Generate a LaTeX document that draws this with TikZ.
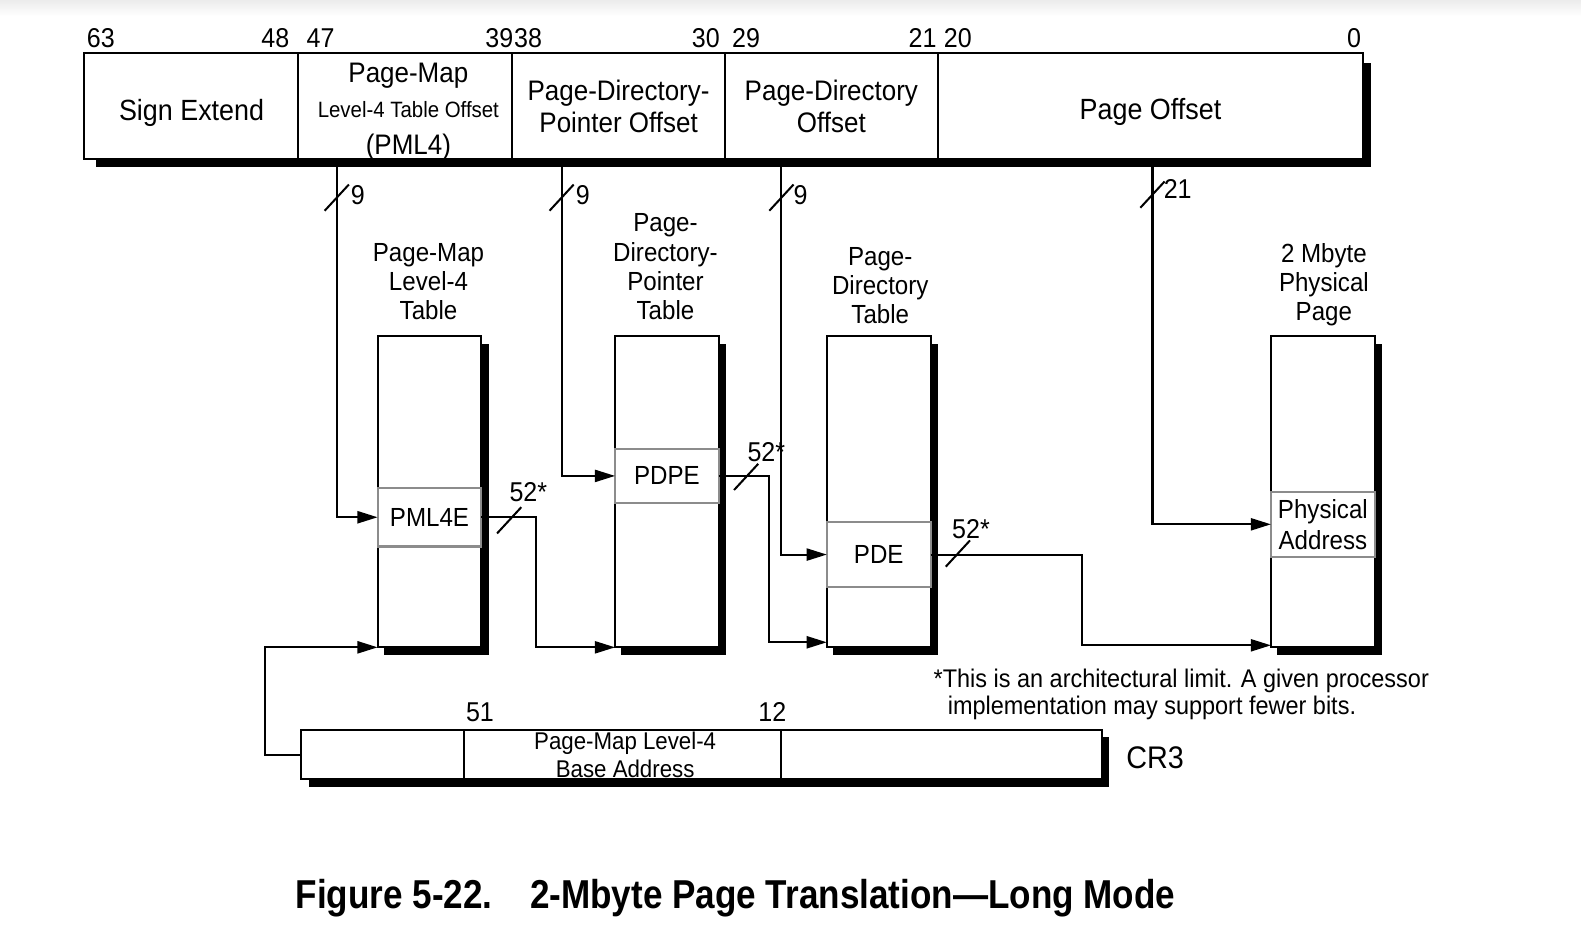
\documentclass[tikz,border=0pt]{standalone}
\usepackage{fontspec}
\setmainfont{Liberation Sans}[FakeStretch=0.92]
\newfontfamily\titlefont{Liberation Sans}[FakeStretch=0.87]
\usetikzlibrary{arrows.meta,calc}
\pgfdeclarelayer{bg}
\pgfsetlayers{bg,main}
\newcommand\fmain{\fontsize{26}{29}\selectfont}
\newcommand\fbig{\fontsize{29}{32}\selectfont}
\newcommand\fhead{\fontsize{28}{32}\selectfont}
\newcommand\fsmall{\fontsize{22}{24}\selectfont}
\newcommand\fcr{\fontsize{24}{28}\selectfont}
\newcommand\fbits{\fontsize{27}{30}\selectfont}
\newcommand\ffoot{\fontsize{25.3}{27}\selectfont}
\definecolor{entrygray}{RGB}{140,140,140}
\tikzset{
  every node/.style={inner sep=0pt, outer sep=0pt},
  field/.style={draw, line width=2pt, fill=white, minimum height=105pt, font=\fhead, align=center},
  tbl/.style={draw, line width=2pt, fill=white, minimum width=103pt, minimum height=309pt},
  entry/.style={draw=entrygray, line width=2pt, fill=white, minimum width=103pt, font=\fmain, align=center},
  crfield/.style={draw, line width=2pt, fill=white, minimum height=49pt},
  conn/.style={line width=2pt},
  arr/.style={conn, -{Triangle[length=20pt,width=12pt]}},
  lbl/.style={font=\fmain, align=center, anchor=north},
  bit/.style={font=\fbits, anchor=base},
}
\newcommand\slashat[1]{\draw[conn] ($(#1)+(-12,13)$) -- ($(#1)+(12,-13)$);}
\begin{document}
\begin{tikzpicture}[x=1pt,y=-1pt]
\useasboundingbox (0,0) rectangle (1568,924);

% ---- top address bar
\node[field, minimum width=213pt] (f1) at (189.5,105.5) {};
\node[field, minimum width=212pt] (f2) at (402,105.5) {};
\node[field, minimum width=211pt] (f3) at (613.5,105.5) {Page-Directory-\\Pointer Offset};
\node[field, minimum width=211pt] (f4) at (824.5,105.5) {Page-Directory\\Offset};
\node[field, minimum width=422pt] (f5) at (1141,105.5) {};
\node[font=\fbig, anchor=base] (f1t) at (190,120) {Sign Extend};
\node[font=\fbig, anchor=base] (f5t) at (1141,119) {Page Offset};
\node[font=\fhead, anchor=base] (f2a) at (405,82) {Page-Map};
\node[font=\fsmall, anchor=base] (f2b) at (405,117) {Level-4 Table Offset};
\node[font=\fhead, anchor=base] (f2c) at (405,153) {(PML4)};

% bit numbers
\node[bit] (b63) at (100,47) {63};
\node[bit] (b48) at (273,47) {48};
\node[bit] (b47) at (318,47) {47};
\node[bit, anchor=base east] (b39) at (509,47) {39};
\node[bit, anchor=base west] (b38) at (510,47) {38};
\node[bit] (b30) at (700,47) {30};
\node[bit] (b29) at (740,47) {29};
\node[bit] (b21) at (915,47) {21};
\node[bit] (b20) at (950,47) {20};
\node[bit] (b0) at (1343,47) {0};

% ---- tables
\node[tbl] (t1) at (426,487.5) {};
\node[tbl] (t2) at (661.5,487.5) {};
\node[tbl] (t3) at (871.5,487.5) {};
\node[tbl] (t4) at (1312,487.5) {};

\node[lbl] (l1) at (425,241) {Page-Map\\Level-4\\Table};
\node[lbl] (l2) at (660,212) {Page-\\Directory-\\Pointer\\Table};
\node[lbl] (l3) at (873,245) {Page-\\Directory\\Table};
\node[lbl] (l4) at (1313,241) {2 Mbyte\\Physical\\Page};

% entries
\node[entry, minimum height=58pt] (e1) at (426,513) {PML4E};
\node[entry, minimum height=54pt] (e2) at (661.5,472) {PDPE};
\node[entry, minimum height=64pt] (e3) at (871.5,550) {PDE};
\node[entry, minimum height=64pt, font=\fontsize{26}{31}\selectfont] (e4) at (1312,520) {Physical\\Address};

% ---- CR3
\node[crfield, minimum width=161pt] (c1) at (379.5,748.5) {};
\node[crfield, minimum width=315pt] (c2) at (617.5,748.5) {};
\node[crfield, minimum width=318pt] (c3) at (934,748.5) {};
\node[font=\fcr, align=center, anchor=north] (c2t) at (620,726) {Page-Map Level-4\\Base Address};
\node[bit] (b51) at (476,716) {51};
\node[bit] (b12) at (766,716) {12};
\node[font=\fontsize{31}{34}\selectfont, anchor=base west] (cr3) at (1117,762) {CR3};

% ---- connectors
\coordinate (tap1) at (334,166);
\coordinate (tap2) at (557,166);
\coordinate (tap3) at (775,166);
\coordinate (tap4) at (1143,166);
\draw[arr] (tap1) |- (e1.west);
\draw[arr] (tap2) |- (e2.west);
\draw[arr] (tap3) |- (e3.west);
\draw[arr] (tap4) |- (e4.west);
\coordinate (s1) at (334,196);
\coordinate (s2) at (557,196);
\coordinate (s3) at (775,196);
\coordinate (s4) at (1143,193);
\slashat{s1}\slashat{s2}\slashat{s3}\slashat{s4}
\node[bit] (n1) at (355,203) {9};
\node[bit] (n2) at (578,203) {9};
\node[bit] (n3) at (794,203) {9};
\node[bit] (n4) at (1168,197) {21};

\draw[arr] (e1.east) -- ++(54,0) |- (t2.south west);
\draw[arr] (e2.east) -- ++(50,0) |- ($(t3.south west)+(0,-5)$);
\draw[arr] (e3.east) -- ++(150,0) |- ($(t4.south west)+(0,-2)$);
\draw[arr] (c1.west) -- ++(-36,0) |- (t1.south west);
\coordinate (s5) at (505,516);
\coordinate (s6) at (740,473);
\coordinate (s7) at (950,549);
\slashat{s5}\slashat{s6}\slashat{s7}
\node[bit] (m1) at (524,497) {52*};
\node[bit] (m2) at (760,458) {52*};
\node[bit] (m3) at (963,534) {52*};

% footnote and title
\node[font=\ffoot, anchor=base west] (fn1) at (926,682) {*This is an architectural limit. A given processor};
\node[font=\ffoot, anchor=base west] (fn2) at (940,709) {implementation may support fewer bits.};
\node[anchor=base] (title) at (729.5,901) {\titlefont\bfseries\fontsize{40}{44}\selectfont Figure 5-22.\hspace{37pt}2-Mbyte Page Translation—Long Mode};

% ---- background and shadows
\begin{pgfonlayer}{bg}
\fill[white] (0,0) rectangle (1568,924);
\shade[top color=gray!15, bottom color=white] (0,0) rectangle (1568,16);
\fill ($(f1.north west)+(12,9)$) rectangle ($(f5.south east)+(8,8)$);
\foreach \t in {t1,t2,t3,t4} {\fill ($(\t.north west)+(6,8)$) rectangle ($(\t.south east)+(7,8)$);}
\fill ($(c1.north west)+(7,7)$) rectangle ($(c3.south east)+(7,8)$);
\end{pgfonlayer}
\end{tikzpicture}
\end{document}
